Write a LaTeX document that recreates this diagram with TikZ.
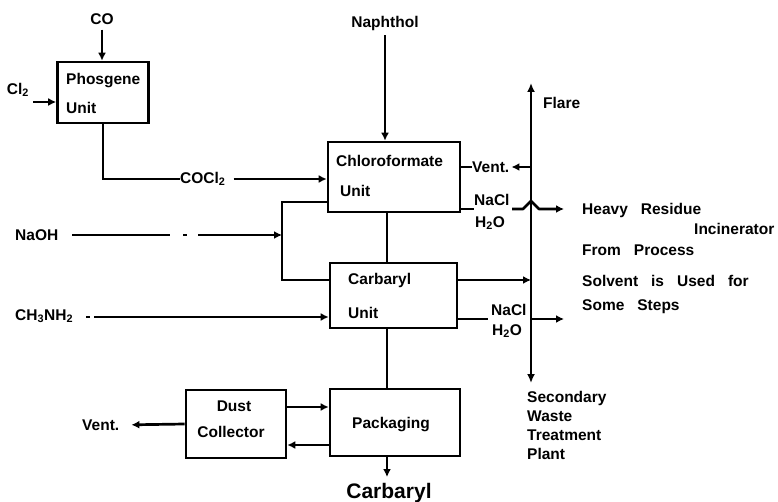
\documentclass[tikz,border=0pt]{standalone}
\usepackage{fontspec}
\setmainfont{Liberation Sans}
\usetikzlibrary{arrows.meta}
\tikzset{
  box/.style={draw, line width=2.6pt, rectangle, inner sep=0pt},
  lbl/.style={font=\bfseries\fontsize{15.5}{19}\selectfont, inner sep=0pt},
  big/.style={font=\bfseries\fontsize{21}{24}\selectfont, inner sep=0pt},
  flow/.style={line width=2.7pt},
  arr/.style={flow, -{Latex[length=8pt,width=8pt]}},
  darr/.style={flow, {Latex[length=9pt,width=8pt]}-{Latex[length=9pt,width=8pt]}},
}
\newcommand{\wsp}{\hspace{13pt}}
\begin{document}
\begin{tikzpicture}[x=1pt,y=-1pt]
\useasboundingbox (0,0) rectangle (778,502);

% boxes
\node[box, minimum width=91pt, minimum height=61pt] (phos) at (103,92.5) {};
\node[box, minimum width=132pt, minimum height=70pt] (chloro) at (394,177) {};
\node[box, minimum width=127pt, minimum height=65pt] (carb) at (393.5,295.5) {};
\node[box, minimum width=100pt, minimum height=68pt] (dust) at (236,424) {};
\node[box, minimum width=130pt, minimum height=67pt] (pack) at (395,422.5) {};

% box texts
\node[lbl, anchor=west] (t1) at (66,81) {Phosgene};
\node[lbl, anchor=west] (t2) at (66,108) {Unit};
\node[lbl, anchor=west] (t3) at (336,161) {Chloroformate};
\node[lbl, anchor=west] (t4) at (340,191) {Unit};
\node[lbl, anchor=west] (t5) at (348,280) {Carbaryl};
\node[lbl, anchor=west] (t6) at (348,313) {Unit};
\node[lbl] (t7) at (234,406) {Dust};
\node[lbl] (t8) at (231,432) {Collector};
\node[lbl] (t9) at (391,425) {Packaging};

% outer labels
\node[lbl] (co) at (102,19) {CO};
\node[lbl] (cl2) at (18,90) {Cl\textsubscript{2}};
\node[lbl, anchor=west] (cocl) at (180,179) {COCl\textsubscript{2}};
\node[lbl] (naph) at (385,23) {Naphthol};
\node[lbl, anchor=west] (flare) at (543,103) {Flare};
\node[lbl, anchor=west] (vent1) at (472,167) {Vent.};
\node[lbl, anchor=west] (nacl1) at (474,200) {NaCl};
\node[lbl, anchor=west] (h2o1) at (475,223) {H\textsubscript{2}O};
\node[lbl, anchor=west] (heavy) at (582,210) {Heavy\wsp Residue};
\node[lbl, anchor=west] (incin) at (694,229) {Incinerator};
\node[lbl, anchor=west] (from) at (582,250) {From\wsp Process};
\node[lbl, anchor=west] (solv) at (582,281) {Solvent\wsp is\wsp Used\wsp for};
\node[lbl, anchor=west] (some) at (582,307) {Some\wsp Steps};
\node[lbl, anchor=west] (naoh) at (15,235) {NaOH};
\node[lbl, anchor=west] (ch3) at (15,316) {CH\textsubscript{3}NH\textsubscript{2}};
\node[lbl, anchor=west] (nacl2) at (491,310) {NaCl};
\node[lbl, anchor=west] (h2o2) at (492,331) {H\textsubscript{2}O};
\node[lbl, anchor=north west, align=left] (swtp) at (527,391) {Secondary\\Waste\\Treatment\\Plant};
\node[lbl, anchor=west] (vent2) at (82,425) {Vent.};
\node[big] (prod) at (389,493) {Carbaryl};

% coordinates
\coordinate (flareTop) at (531,83);
\coordinate (flareBot) at (531,383);
\coordinate (x387) at (387,0);
\coordinate (cl2e) at (33,102);
\coordinate (j1) at (282,202);
\coordinate (j2) at (282,280);
\coordinate (jn) at (282,235);
\coordinate (na1) at (72,235);
\coordinate (na2) at (170,235);
\coordinate (na3) at (183,235);
\coordinate (na4) at (187,235);
\coordinate (na5) at (198,235);
\coordinate (c0a) at (86,317);
\coordinate (c0b) at (90,317);
\coordinate (c1) at (94,317);
\coordinate (n1a) at (474,209);
\coordinate (n1b) at (512,209);
\coordinate (h1) at (523,209);
\coordinate (hp) at (531,201);
\coordinate (h2) at (539,209);
\coordinate (n1c) at (564,209);
\coordinate (n2a) at (488,319);
\coordinate (n2b) at (564,319);
\coordinate (d1) at (0,407);
\coordinate (d2) at (0,445);

% connectors
\draw[arr, shorten <=5pt] (co.south) -- (co.south |- phos.north);
\draw[arr] (cl2e) -- (phos.west |- cl2e);
\draw[flow] (phos.south) -- (phos.south |- cocl.west) -- (cocl.west);
\draw[arr, shorten <=8pt] (cocl.east) -- (chloro.west |- cocl.east);
\draw[arr, shorten <=5pt] (naph.south) -- (naph.south |- chloro.north);

\draw[flow] (chloro.west |- j1) -- (j1) -- (j2) -- (carb.west |- j2);
\draw[flow] (na1) -- (na2);
\draw[flow] (na3) -- (na4);
\draw[arr] (na5) -- (jn);
\draw[flow] (c0a) -- (c0b);
\draw[arr] (c1) -- (carb.west |- c1);

\draw[flow] (chloro.south -| x387) -- (carb.north -| x387);
\draw[flow] (carb.south -| x387) -- (pack.north -| x387);
\draw[arr, shorten >=6pt] (pack.south -| x387) -- (prod.north -| x387);

\draw[darr] (flareBot) -- (flareTop);
\draw[flow] (chloro.east |- vent1.west) -- (vent1.west);
\draw[arr, shorten >=2pt] (flareTop |- vent1.east) -- (vent1.east);
\draw[flow] (chloro.east |- n1a) -- (n1a);
\draw[arr, line join=round] (n1b) -- (h1) -- (hp) -- (h2) -- (n1c);
\draw[arr] (carb.east |- j2) -- (flareTop |- j2);
\draw[flow] (carb.east |- n2a) -- (n2a);
\draw[arr] (flareTop |- n2b) -- (n2b);

\draw[arr] (dust.east |- d1) -- (pack.west |- d1);
\draw[arr] (pack.west |- d2) -- (dust.east |- d2);
\draw[arr, shorten >=12pt] (dust.west) -- (vent2.east);
\end{tikzpicture}
\end{document}
